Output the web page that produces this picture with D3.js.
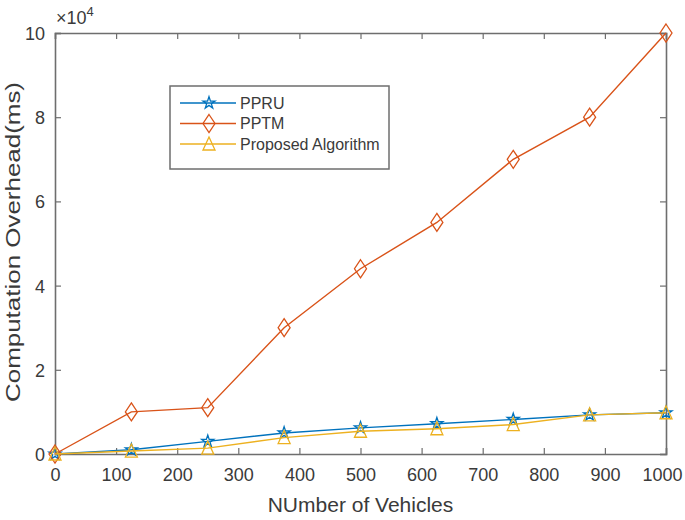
<!DOCTYPE html>
<html>
<head>
<meta charset="utf-8">
<script src="https://cdn.jsdelivr.net/npm/d3@7"></script>
<style>
body{margin:0;background:#fff;}
svg{display:block;font-family:"Liberation Sans",Arial,sans-serif;}
</style>
</head>
<body>
<svg id="chart" width="685" height="520"></svg>
<script>
const vehicles = [0, 125, 250, 375, 500, 625, 750, 875, 1000];
const ppru = [0, 1000, 3000, 5000, 6200, 7200, 8200, 9300, 9800];
const pptm = [0, 10000, 11000, 30000, 44000, 55000, 70000, 80000, 100000];
const proposed = [0, 700, 1400, 3900, 5400, 6000, 7000, 9300, 9800];
const xTicks = [0, 100, 200, 300, 400, 500, 600, 700, 800, 900, 1000];
const yTicks = [0, 20000, 40000, 60000, 80000, 100000];
const seriesNames = ["PPRU", "PPTM", "Proposed Algorithm"];
const seriesColors = ["#0072BD", "#D95319", "#EDB120"];
const seriesMarkers = ["star", "diamond", "triangle"];
const seriesValues = [ppru, pptm, proposed];

const svg = d3.select("#chart");
const L = 55, R = 666, T = 33, B = 454;
const x = d3.scaleLinear().domain([0, 1000]).range([L, R]);
const y = d3.scaleLinear().domain([0, 100000]).range([B, T]);
const axisColor = "#6e6e6e";
const textColor = "#3a3a3a";

// axes with inward ticks
const gx = svg.append("g").attr("transform", `translate(0,${B})`)
  .call(d3.axisBottom(x).tickValues(xTicks).tickSize(-6).tickPadding(14).tickFormat(d3.format("d")));
const gxt = svg.append("g").attr("transform", `translate(0,${T})`)
  .call(d3.axisTop(x).tickValues(xTicks).tickSize(-6).tickFormat(""));
const gy = svg.append("g").attr("transform", `translate(${L},0)`)
  .call(d3.axisLeft(y).tickValues(yTicks).tickSize(-6).tickPadding(10).tickFormat(d => d / 10000));
const gyr = svg.append("g").attr("transform", `translate(${R},0)`)
  .call(d3.axisRight(y).tickValues(yTicks).tickSize(-6).tickFormat(""));
[gx, gxt, gy, gyr].forEach(g => {
  g.select(".domain").attr("stroke", axisColor).attr("stroke-width", 1.6);
  g.selectAll(".tick line").attr("stroke", axisColor).attr("stroke-width", 1.2);
  g.selectAll("text").attr("fill", textColor).attr("font-size", 18)
    .attr("font-family", "Liberation Sans, Arial, sans-serif");
});
gy.selectAll("text").attr("dy", "0.36em");
gx.selectAll(".tick text").filter(d => d === 1000).attr("dx", -4);

// exponent
const ex = svg.append("text").attr("x", 56).attr("y", 24).attr("fill", textColor)
  .attr("font-size", 18);
ex.append("tspan").text("×10");
ex.append("tspan").attr("dy", -8).attr("font-size", 13).text("4");

// labels
svg.append("text").attr("x", (L + R) / 2).attr("y", 512).attr("text-anchor", "middle")
  .attr("fill", textColor).attr("font-size", 21).text("NUmber of Vehicles");
svg.append("text").attr("transform", "translate(20,242) rotate(-90)").attr("text-anchor", "middle")
  .attr("fill", textColor).attr("font-size", 21)
  .attr("textLength", 320).attr("lengthAdjust", "spacingAndGlyphs")
  .text("Computation Overhead(ms)");

// markers
function markerPath(type) {
  if (type === "diamond") return "M0,-9L6,0L0,9L-6,0Z";
  if (type === "triangle") return "M0,-7L6,6L-6,6Z";
  return d3.symbol().type(d3.symbolStar).size(45)();
}

const line = d3.line().x((d, i) => x(vehicles[i])).y(d => y(d));
seriesValues.forEach((vals, s) => {
  svg.append("path").datum(vals).attr("d", line).attr("fill", "none")
    .attr("stroke", seriesColors[s]).attr("stroke-width", 1.4);
  svg.append("g").selectAll("path").data(vals).join("path")
    .attr("transform", (d, i) => `translate(${x(vehicles[i])},${y(d)})`)
    .attr("d", markerPath(seriesMarkers[s]))
    .attr("fill", "none").attr("stroke", seriesColors[s]).attr("stroke-width", 1.3);
});

// legend
const lg = svg.append("g");
lg.append("rect").attr("x", 170).attr("y", 86).attr("width", 219).attr("height", 83)
  .attr("fill", "#fff").attr("stroke", axisColor).attr("stroke-width", 1.5);
const legendY = [103, 123.5, 144];
seriesNames.forEach((name, s) => {
  const g = lg.append("g").attr("transform", `translate(0,${legendY[s]})`);
  g.append("line").attr("x1", 180).attr("x2", 236).attr("y1", 0).attr("y2", 0)
    .attr("stroke", seriesColors[s]).attr("stroke-width", 1.4);
  g.append("path").attr("transform", "translate(209,0)").attr("d", markerPath(seriesMarkers[s]))
    .attr("fill", "none").attr("stroke", seriesColors[s]).attr("stroke-width", 1.3);
  g.append("text").attr("x", 240).attr("y", 0).attr("dy", "0.36em").attr("fill", textColor)
    .attr("font-size", 16).text(name);
});
</script>
</body>
</html>
